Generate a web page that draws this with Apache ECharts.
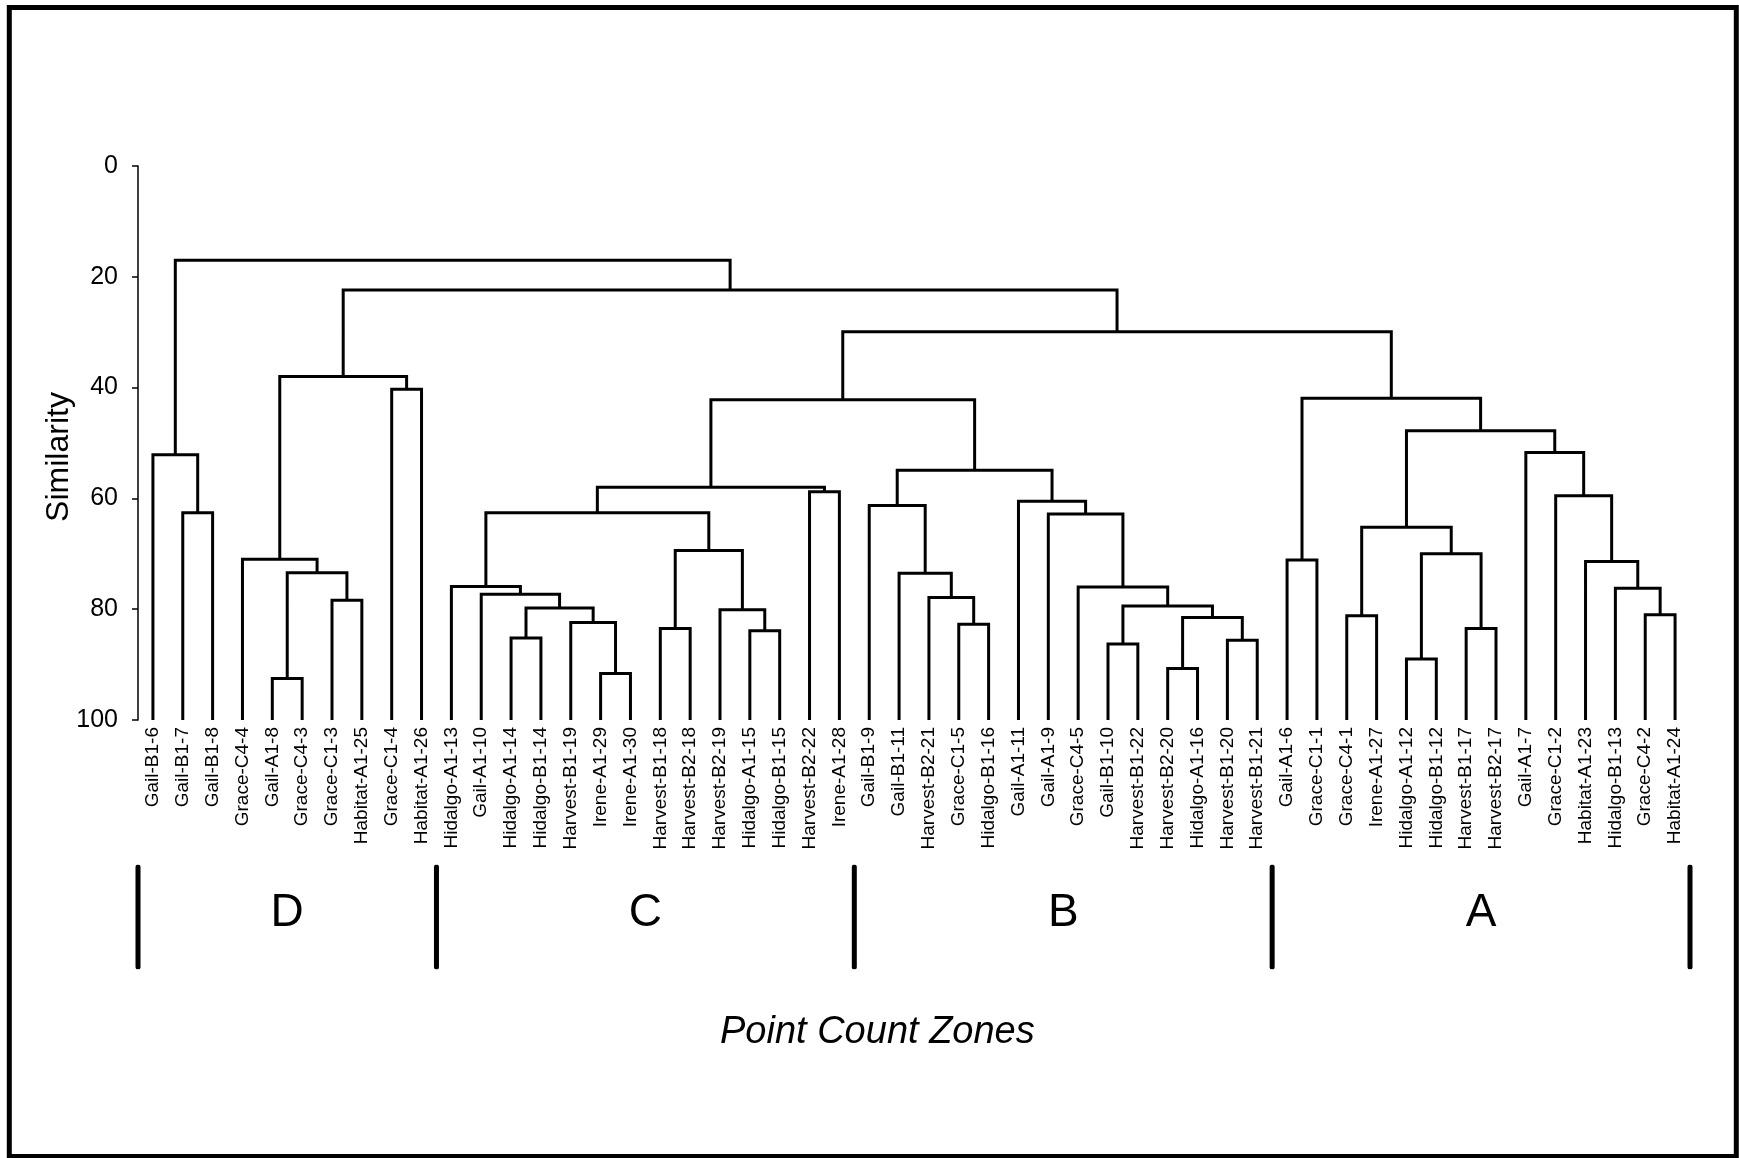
<!DOCTYPE html>
<html><head><meta charset="utf-8">
<script src="https://cdn.jsdelivr.net/npm/echarts@6/dist/echarts.min.js"></script>
<style>html,body{margin:0;padding:0;background:#fff}#c{width:1739px;height:1158px}</style>
</head><body><div id="c"></div>
<script>
// Leaf labels in dendrogram order
const leaves = [
  'Gail-B1-6','Gail-B1-7','Gail-B1-8','Grace-C4-4','Gail-A1-8','Grace-C4-3','Grace-C1-3','Habitat-A1-25','Grace-C1-4','Habitat-A1-26',
  'Hidalgo-A1-13','Gail-A1-10','Hidalgo-A1-14','Hidalgo-B1-14','Harvest-B1-19','Irene-A1-29','Irene-A1-30','Harvest-B1-18','Harvest-B2-18','Harvest-B2-19','Hidalgo-A1-15','Hidalgo-B1-15','Harvest-B2-22','Irene-A1-28',
  'Gail-B1-9','Gail-B1-11','Harvest-B2-21','Grace-C1-5','Hidalgo-B1-16','Gail-A1-11','Gail-A1-9','Grace-C4-5','Gail-B1-10','Harvest-B1-22','Harvest-B2-20','Hidalgo-A1-16','Harvest-B1-20','Harvest-B1-21',
  'Gail-A1-6','Grace-C1-1','Grace-C4-1','Irene-A1-27','Hidalgo-A1-12','Hidalgo-B1-12','Harvest-B1-17','Harvest-B2-17','Gail-A1-7','Grace-C1-2','Habitat-A1-23','Hidalgo-B1-13','Grace-C4-2','Habitat-A1-24'
];
// Merges: [left, right, similarity]; numbers = leaf index, 'mK' = K-th merge
const merges = [
  [4, 5, 92.5], [6, 7, 78.4], ['m0', 'm1', 73.4], [3, 'm2', 71.0], [8, 9, 40.3], ['m3', 'm4', 38.0],
  [1, 2, 62.6], [0, 'm6', 52.1],
  [15, 16, 91.6], [14, 'm8', 82.4], [12, 13, 85.2], ['m10', 'm9', 79.8], [11, 'm11', 77.3], [10, 'm12', 75.9],
  [17, 18, 83.5], [20, 21, 83.9], [19, 'm15', 80.1], ['m14', 'm16', 69.4], ['m13', 'm17', 62.6],
  [22, 23, 58.8], ['m18', 'm19', 58.0],
  [27, 28, 82.7], [26, 'm21', 77.9], [25, 'm22', 73.5], [24, 'm23', 61.3],
  [32, 33, 86.3], [34, 35, 90.7], [36, 37, 85.6], ['m26', 'm27', 81.5], ['m25', 'm28', 79.4],
  [31, 'm29', 76.0], [30, 'm30', 62.8], [29, 'm31', 60.5], ['m24', 'm32', 54.9], ['m20', 'm33', 42.2],
  [38, 39, 71.1], [40, 41, 81.2], [42, 43, 89.0], [44, 45, 83.5], ['m37', 'm38', 70.0], ['m36', 'm39', 65.2],
  [50, 51, 81.0], [49, 'm41', 76.2], [48, 'm42', 71.4], [47, 'm43', 59.5], [46, 'm44', 51.7],
  ['m40', 'm45', 47.8], ['m35', 'm46', 41.9],
  ['m34', 'm47', 29.9], ['m5', 'm48', 22.4], ['m7', 'm49', 17.0]
];
const simTicks = [0, 20, 40, 60, 80, 100];
const zoneNames = ['D', 'C', 'B', 'A'];
const zoneSizes = [10, 14, 14, 14];

const FONT = '"Liberation Sans", Arial, sans-serif';
const nodeX = {}, nodeH = {};
const px = r => typeof r === 'number' ? r : nodeX[r];
const ph = r => typeof r === 'number' ? simTicks[simTicks.length - 1] : nodeH[r];
const series = [];
merges.forEach((m, k) => {
  const [a, b, h] = m;
  const xa = px(a), xb = px(b);
  series.push({
    type: 'line', xAxisIndex: 0, yAxisIndex: 0, symbol: 'none', silent: true,
    lineStyle: { color: '#000', width: 3, join: 'miter' },
    data: [[xa, ph(a)], [xa, h], [xb, h], [xb, ph(b)]]
  });
  nodeX['m' + k] = (xa + xb) / 2;
  nodeH['m' + k] = h;
});

// zone separators and letters
let start = -0.5;
const bounds = [start];
const letterData = [];
zoneSizes.forEach((s, i) => {
  letterData.push({ value: [start + s / 2, 0.5], name: zoneNames[i] });
  start += s;
  bounds.push(start);
});
bounds.forEach(b => series.push({
  type: 'line', xAxisIndex: 2, yAxisIndex: 1, symbol: 'none', silent: true,
  lineStyle: { color: '#000', width: 5, cap: 'round' },
  data: [[b, 0], [b, 1]]
}));
series.push({
  type: 'scatter', xAxisIndex: 2, yAxisIndex: 1, symbol: 'rect', symbolSize: 1, silent: true,
  itemStyle: { color: 'rgba(0,0,0,0)', opacity: 1 },
  label: { show: true, position: 'inside', formatter: p => p.name, color: '#000', fontSize: 46, fontFamily: FONT, offset: [0, -4] },
  data: letterData
});

const chart = echarts.init(document.getElementById('c'), null, { renderer: 'canvas' });
chart.setOption({
  animation: false,
  backgroundColor: '#fff',
  textStyle: { fontFamily: FONT },
  title: {
    text: 'Point Count Zones', left: 715, top: 1008,
    textStyle: { fontSize: 38, fontStyle: 'italic', fontWeight: 'normal', color: '#000', fontFamily: FONT }
  },
  grid: [
    { left: 138, right: 49, top: 166, bottom: 438 },
    { left: 138, right: 49, top: 867, height: 100 }
  ],
  xAxis: [
    { type: 'value', gridIndex: 0, min: -0.5, max: leaves.length - 0.5, position: 'top', show: false },
    { type: 'category', gridIndex: 0, data: leaves, position: 'bottom', boundaryGap: true,
      axisLine: { show: false }, axisTick: { show: false }, splitLine: { show: false },
      axisLabel: { rotate: 90, interval: 0, fontSize: 19, color: '#000', margin: 7, fontFamily: FONT } },
    { type: 'value', gridIndex: 1, min: -0.5, max: leaves.length - 0.5, show: false }
  ],
  yAxis: [
    { type: 'value', gridIndex: 0, inverse: true, min: simTicks[0], max: simTicks[simTicks.length - 1], interval: 20,
      name: 'Similarity', nameLocation: 'middle', nameGap: 63, nameRotate: 90, nameMoveOverlap: false,
      nameTextStyle: { fontSize: 32, color: '#000', fontFamily: FONT, padding: [0, 28, 0, 0] },
      axisLine: { show: true, onZero: false, lineStyle: { color: '#000', width: 1.5 } },
      axisTick: { show: true, inside: false, length: 6, lineStyle: { color: '#000', width: 1.5 } },
      splitLine: { show: false },
      axisLabel: { fontSize: 25, color: '#000', margin: 20, fontFamily: FONT } },
    { type: 'value', gridIndex: 1, min: 0, max: 1, show: false }
  ],
  graphic: [{
    type: 'rect', silent: true, z: 100,
    shape: { x: 9.3, y: 7.5, width: 1727, height: 1149 },
    style: { fill: 'none', stroke: '#000', lineWidth: 5 }
  }],
  series: series
});
</script></body></html>
